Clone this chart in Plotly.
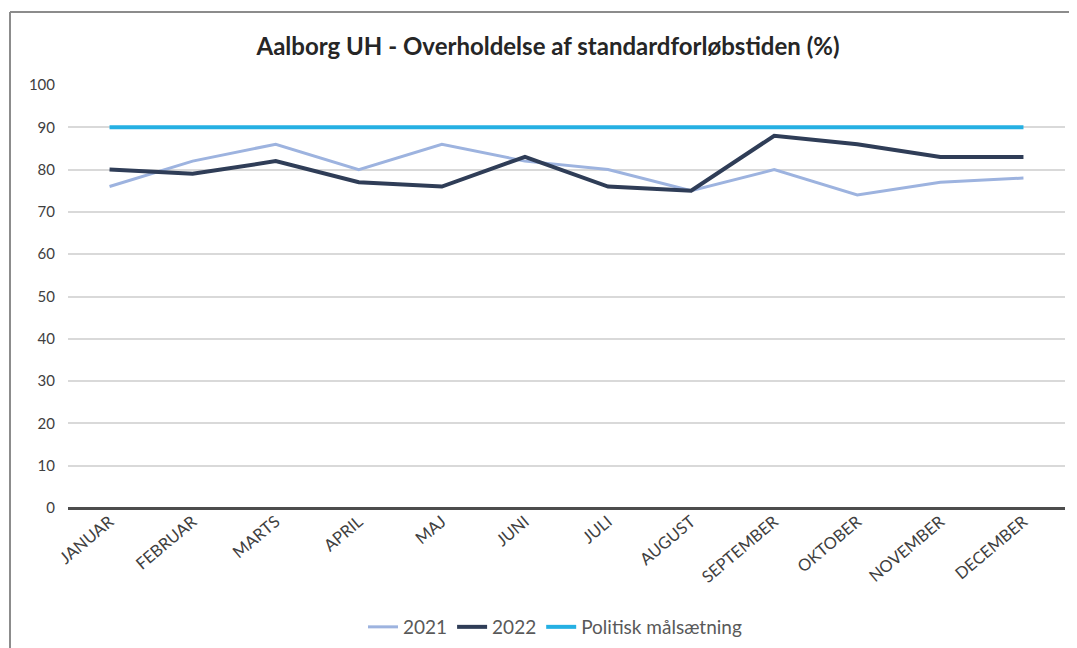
import plotly.graph_objects as go

months = ["JANUAR", "FEBRUAR", "MARTS", "APRIL", "MAJ", "JUNI", "JULI",
          "AUGUST", "SEPTEMBER", "OKTOBER", "NOVEMBER", "DECEMBER"]
values_2021 = [76, 82, 86, 80, 86, 82, 80, 75, 80, 74, 77, 78]
values_2022 = [80, 79, 82, 77, 76, 83, 76, 75, 88, 86, 83, 83]
target = [90] * 12

# the page has an 8px body margin, so positions are offset by 8
W, H = 1077, 648
OFF = 8
L, T = 68 - OFF, 85 - OFF
R = W - (1065 - OFF)
B = H - (508 - OFF)
pw, ph = W - L - R, H - T - B

fig = go.Figure()
fig.add_trace(go.Scatter(x=months, y=values_2021, name="2021", mode="lines",
                         line=dict(color="#9DB3DF", width=3)))
fig.add_trace(go.Scatter(x=months, y=values_2022, name="2022", mode="lines",
                         line=dict(color="#2F3D57", width=4)))
fig.add_trace(go.Scatter(x=months, y=target, name="Politisk målsætning", mode="lines",
                         line=dict(color="#25B0E3", width=4)))

# frame of the chart box (cropped on right and bottom)
fx = (10 - OFF - L) / pw
fy = 1 + (T - (12 - OFF)) / ph
fig.add_shape(type="line", xref="paper", yref="paper", x0=fx, x1=fx, y0=-1, y1=fy,
              line=dict(color="#8c8c8c", width=2))
fig.add_shape(type="line", xref="paper", yref="paper", x0=fx, x1=1.2, y0=fy, y1=fy,
              line=dict(color="#8c8c8c", width=2))

fig.update_layout(
    width=W, height=H,
    margin=dict(l=L, r=R, t=T, b=B, autoexpand=False),
    paper_bgcolor="white", plot_bgcolor="white",
    font=dict(family="Lato, Calibri, sans-serif", color="#595959"),
    title=dict(text="<b>Aalborg UH - Overholdelse af standardforløbstiden (%)</b>",
               x=(548 - OFF) / W, xref="container", xanchor="center",
               y=1 - (47 - OFF) / H, yanchor="middle",
               font=dict(size=24, color="#262626")),
    showlegend=True,
    legend=dict(orientation="h", x=(555 - OFF) / W, xanchor="center", xref="container",
                y=1 - (627 - OFF) / H, yref="container", yanchor="middle",
                font=dict(size=19, color="#595959"), bgcolor="rgba(0,0,0,0)"),
)
fig.update_xaxes(showgrid=False, tickangle=-40, tickfont=dict(size=16.5, color="#404040"),
                 range=[-0.5, 11.5], ticks="", showline=False, zeroline=False,
                 automargin=False)
fig.update_yaxes(range=[0, 100], dtick=10, showgrid=True, gridcolor="#d9d9d9",
                 gridwidth=1.5, zeroline=True, zerolinecolor="#4d4d4d", zerolinewidth=2.5,
                 tickfont=dict(size=15, color="#404040"), ticks="", showline=False,
                 ticklabelstandoff=12, automargin=False)

fig.write_html("out.html")
